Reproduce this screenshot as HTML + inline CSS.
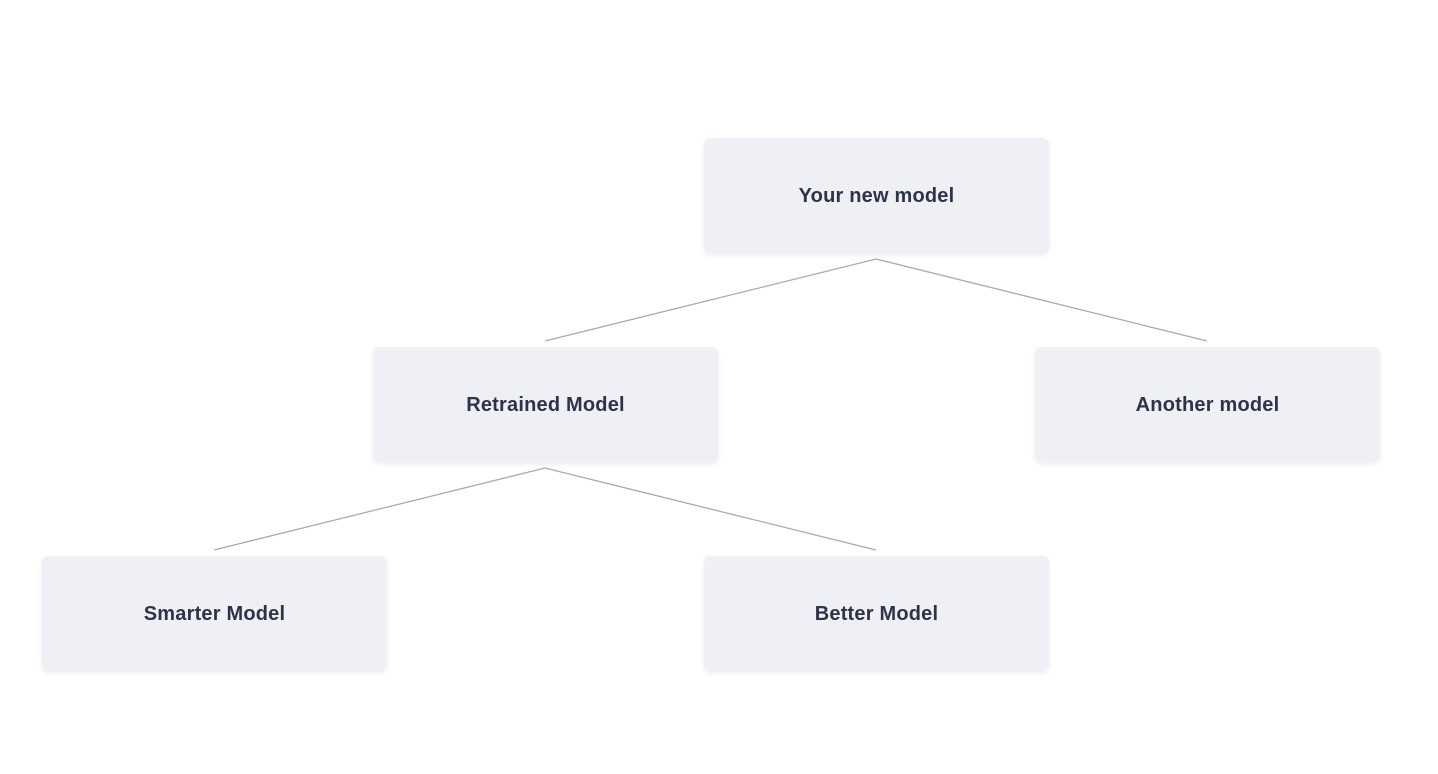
<!DOCTYPE html>
<html><head><style>
body{margin:0;width:1438px;height:774px;background:#fff;position:relative;overflow:hidden;font-family:"Liberation Sans",sans-serif}
.n{position:absolute;width:345px;height:115px;background:#eef0f5;border-radius:7px;box-shadow:0 2px 6px rgba(0,0,0,0.08);display:flex;align-items:center;justify-content:center;color:#2d3348;font-weight:bold;font-size:20px;padding-top:2px;box-sizing:border-box;letter-spacing:0.2px}
svg{position:absolute;left:0;top:0}
</style></head><body>
<svg width="1438" height="774"><g stroke="#aaa" stroke-width="1.3" fill="none">
<polyline points="545,341 876,259 1207,341"/>
<polyline points="214,550 545,468 876,550"/>
</g></svg>
<div class="n" style="left:704px;top:138px">Your new model</div>
<div class="n" style="left:373px;top:347px">Retrained Model</div>
<div class="n" style="left:1035px;top:347px">Another model</div>
<div class="n" style="left:42px;top:556px">Smarter Model</div>
<div class="n" style="left:704px;top:556px">Better Model</div>
</body></html>
